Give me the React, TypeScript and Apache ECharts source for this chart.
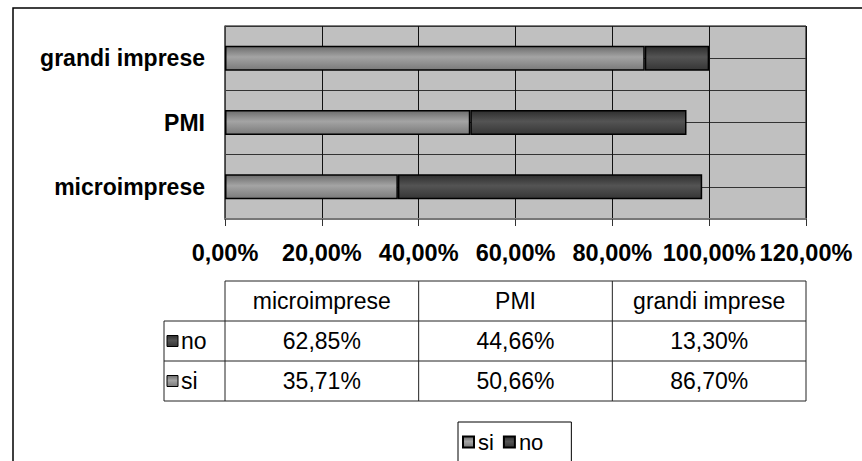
import React, { useEffect, useRef } from "react";
import * as echarts from "echarts";

const categories = ["microimprese", "PMI", "grandi imprese"];
const siValues = [35.71, 50.66, 86.7];
const noValues = [62.85, 44.66, 13.3];
const seriesNames = ["si", "no"];
const axisMin = 0;
const axisMax = 120;
const axisStep = 20;

const FONT = "'Liberation Sans', Arial, sans-serif";
const GRID = { left: 225, top: 26, width: 581, height: 193 };
const TABLE = { top: 281, rowH: 40, labelLeft: 164 };

const fmt = (v: number) => v.toFixed(2).replace(".", ",") + "%";

const siGrad = () =>
  new echarts.graphic.LinearGradient(0, 0, 0, 1, [
    { offset: 0, color: "#6c6c6c" },
    { offset: 0.45, color: "#a4a4a4" },
    { offset: 1, color: "#7a7a7a" },
  ]);
const noGrad = () =>
  new echarts.graphic.LinearGradient(0, 0, 0, 1, [
    { offset: 0, color: "#2e2e2e" },
    { offset: 0.45, color: "#545454" },
    { offset: 1, color: "#363636" },
  ]);

function buildTable(): any[] {
  const els: any[] = [];
  const colW = GRID.width / categories.length;
  const right = GRID.left + GRID.width;
  const t = TABLE.top;
  const r = TABLE.rowH;
  const lineStyle = { stroke: "#222", lineWidth: 1 };
  els.push({ type: "line", shape: { x1: GRID.left, y1: t, x2: right, y2: t }, style: lineStyle });
  for (let k = 1; k <= 3; k++) {
    els.push({
      type: "line",
      shape: { x1: TABLE.labelLeft, y1: t + r * k, x2: right, y2: t + r * k },
      style: lineStyle,
    });
  }
  els.push({
    type: "line",
    shape: { x1: TABLE.labelLeft, y1: t + r, x2: TABLE.labelLeft, y2: t + 3 * r },
    style: lineStyle,
  });
  for (let i = 0; i <= categories.length; i++) {
    const x = GRID.left + colW * i;
    els.push({ type: "line", shape: { x1: x, y1: t, x2: x, y2: t + 3 * r }, style: lineStyle });
  }
  categories.forEach((c, i) => {
    els.push({
      type: "text",
      x: GRID.left + colW * (i + 0.5),
      y: t + r / 2,
      style: { text: c, fill: "#000", font: `23px ${FONT}`, textAlign: "center", textVerticalAlign: "middle" },
    });
  });
  const rows = [
    { name: "no", vals: noValues, grad: noGrad },
    { name: "si", vals: siValues, grad: siGrad },
  ];
  rows.forEach((row, k) => {
    const cy = t + r * (k + 1) + r / 2;
    els.push({
      type: "rect",
      shape: { x: TABLE.labelLeft + 3, y: cy - 5.5, width: 11, height: 11 },
      style: { fill: row.grad(), stroke: "#000", lineWidth: 1 },
    });
    els.push({
      type: "text",
      x: TABLE.labelLeft + 17,
      y: cy,
      style: { text: row.name, fill: "#000", font: `23px ${FONT}`, textAlign: "left", textVerticalAlign: "middle" },
    });
    row.vals.forEach((v, i) => {
      els.push({
        type: "text",
        x: GRID.left + colW * (i + 0.5),
        y: cy,
        style: { text: fmt(v), fill: "#000", font: `23px ${FONT}`, textAlign: "center", textVerticalAlign: "middle" },
      });
    });
  });
  return els;
}

export default function App() {
  const ref = useRef<HTMLDivElement>(null);
  useEffect(() => {
    if (!ref.current) return;
    const chart = echarts.init(ref.current, null, { renderer: "svg" });
    const barStyle = (grad: any) => ({ color: grad, borderColor: "#000", borderWidth: 1.5 });
    chart.setOption({
      animation: false,
      backgroundColor: "#fff",
      grid: {
        left: GRID.left,
        top: GRID.top,
        width: GRID.width,
        height: GRID.height,
        show: true,
        backgroundColor: "#c0c0c0",
        borderColor: "#000",
        borderWidth: 1,
      },
      xAxis: {
        type: "value",
        min: axisMin,
        max: axisMax,
        interval: axisStep,
        axisLine: { show: true, lineStyle: { color: "#777", width: 2 } },
        axisTick: { show: true, length: 7, lineStyle: { color: "#333" } },
        axisLabel: {
          margin: 22,
          formatter: (v: number) => fmt(v),
          color: "#000",
          fontFamily: FONT,
          fontWeight: "bold",
          fontSize: 23.5,
        },
        splitLine: { show: true, lineStyle: { color: "#111", width: 1 } },
      },
      yAxis: [
        {
          type: "category",
          data: categories,
          axisLine: { show: true, lineStyle: { color: "#555", width: 1.5 } },
          axisTick: { show: false },
          axisLabel: {
            margin: 20,
            color: "#000",
            fontFamily: FONT,
            fontWeight: "bold",
            fontSize: 23,
          },
          splitLine: { show: true, lineStyle: { color: "#333", width: 1 } },
        },
        {
          type: "value",
          min: 0,
          max: 3,
          interval: 0.5,
          position: "left",
          axisLine: { show: false },
          axisTick: { show: false },
          axisLabel: { show: false },
          splitLine: { show: true, lineStyle: { color: "#333", width: 1 } },
        },
      ],
      legend: {
        data: seriesNames,
        left: 458,
        top: 422,
        orient: "horizontal",
        padding: [9, 28, 9, 4],
        itemGap: 9,
        itemWidth: 11,
        itemHeight: 11,
        icon: "rect",
        borderColor: "#000",
        borderWidth: 1,
        textStyle: { color: "#000", fontFamily: FONT, fontSize: 22, padding: [0, 0, 0, -1] },
      },
      series: [
        {
          name: seriesNames[0],
          type: "bar",
          stack: "total",
          barWidth: 25,
          data: siValues,
          itemStyle: barStyle(siGrad()),
        },
        {
          name: seriesNames[1],
          type: "bar",
          stack: "total",
          barWidth: 25,
          data: noValues,
          itemStyle: barStyle(noGrad()),
        },
      ],
      graphic: [
        {
          type: "rect",
          shape: { x: 13, y: 8, width: 900, height: 500 },
          style: { fill: "none", stroke: "#000", lineWidth: 1.5 },
          silent: true,
        },
        ...buildTable(),
      ],
    });
    return () => chart.dispose();
  }, []);
  return (
    <div
      ref={ref}
      style={{ position: "fixed", left: 0, top: 0, width: 862, height: 461, background: "#fff" }}
    />
  );
}
